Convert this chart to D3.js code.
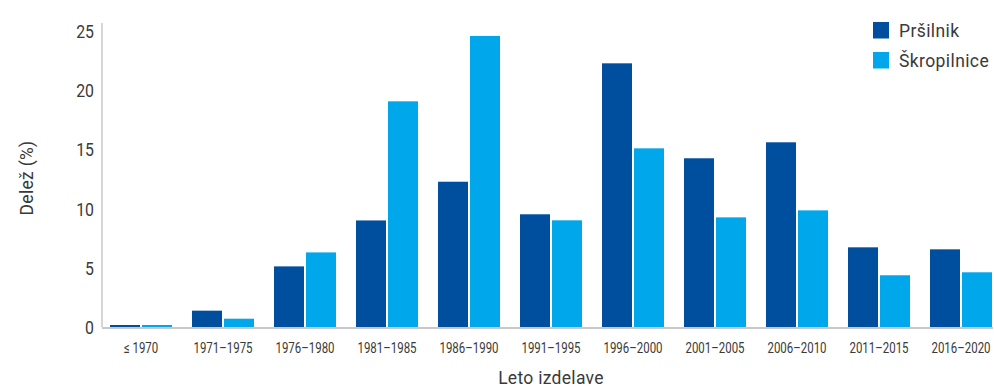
<!DOCTYPE html>
<html>
<head>
<meta charset="utf-8">
<script src="https://cdn.jsdelivr.net/npm/d3@7"></script>
<style>
  html, body { margin: 0; padding: 0; background: #fff; }
  svg { display: block; }
</style>
</head>
<body>
<svg id="chart" width="994" height="389"></svg>
<script>
// Production-year groups
const categories = ["≤ 1970", "1971–1975", "1976–1980", "1981–1985", "1986–1990",
  "1991–1995", "1996–2000", "2001–2005", "2006–2010", "2011–2015", "2016–2020"];
const seriesNames = ["Pršilnik", "Škropilnice"];
// Share (%) per group
const prsilnik    = [0.17, 1.38, 5.12, 9.0, 12.27, 9.52, 22.27, 14.25, 15.6, 6.73, 6.56];
const skropilnice = [0.17, 0.7, 6.3, 19.06, 24.58, 9.01, 15.09, 9.26, 9.85, 4.37, 4.62];
const yTicks = [0, 5, 10, 15, 20, 25];
const colors = ["#004f9f", "#00a7eb"];

const svg = d3.select("#chart");
const textColor = "#3a3a3a";
const font = "Roboto, sans-serif";

const x0 = d3.scaleBand().domain(categories).range([100, 1002])
  .paddingInner(20 / 82).paddingOuter(10 / 82);
const x1 = d3.scaleBand().domain(seriesNames).range([0, x0.bandwidth()]).paddingInner(2 / 32);
const y = d3.scaleLinear().domain([0, 25]).range([327, 31]);

const rows = categories.map((c, i) => ({ cat: c, vals: [prsilnik[i], skropilnice[i]] }));

// Bars
const groups = svg.append("g").selectAll("g").data(rows).join("g")
  .attr("transform", d => `translate(${x0(d.cat)},0)`);
groups.selectAll("rect")
  .data(d => d.vals.map((v, k) => ({ key: seriesNames[k], v, k })))
  .join("rect")
  .attr("x", d => x1(d.key))
  .attr("width", x1.bandwidth())
  .attr("y", d => y(d.v))
  .attr("height", d => y(0) - y(d.v))
  .attr("fill", d => colors[d.k]);

// Axis lines
svg.append("line").attr("x1", 102).attr("x2", 102).attr("y1", 23).attr("y2", y(0))
  .attr("stroke", "#c8c8c8").attr("stroke-width", 1.5);
svg.append("line").attr("x1", 102).attr("x2", 993).attr("y1", y(0) + 1).attr("y2", y(0) + 1)
  .attr("stroke", "#c8c8c8").attr("stroke-width", 2);

// Y axis labels (condensed)
const yAxis = d3.axisLeft(y).tickValues(yTicks).tickSize(0).tickPadding(0);
const gy = svg.append("g").attr("transform", "translate(94,0)").call(yAxis);
gy.select(".domain").remove();
gy.selectAll("text").attr("fill", textColor).attr("font-size", 18)
  .attr("font-family", font).attr("dy", "0.36em")
  .attr("transform", "scale(0.88,1)");

// X axis labels (condensed)
const xAxis = d3.axisBottom(x0).tickSize(0).tickPadding(0);
const gx = svg.append("g").attr("transform", "translate(0,342)").call(xAxis);
gx.select(".domain").remove();
gx.selectAll("text").attr("fill", textColor).attr("font-size", 15.5)
  .attr("font-family", font).attr("dy", "0.72em")
  .attr("transform", "scale(0.74,1)");

// Axis titles
svg.append("text").attr("x", 551).attr("y", 384).attr("text-anchor", "middle")
  .attr("font-family", font).attr("font-size", 17.5).attr("fill", textColor)
  .attr("letter-spacing", 0.3)
  .text("Leto izdelave");
svg.append("text").attr("transform", "translate(33,178) rotate(-90)").attr("text-anchor", "middle")
  .attr("font-family", font).attr("font-size", 17.5).attr("fill", textColor)
  .attr("letter-spacing", 0.3)
  .text("Delež (%)");

// Legend
const legend = svg.append("g").selectAll("g").data(seriesNames).join("g")
  .attr("transform", (d, i) => `translate(873,${22 + i * 30})`);
legend.append("rect").attr("width", 16).attr("height", 16.5).attr("fill", (d, i) => colors[i]);
legend.append("text").attr("x", 26).attr("y", 15)
  .attr("font-family", font).attr("font-size", 17.5).attr("fill", textColor)
  .attr("letter-spacing", 0.4)
  .text(d => d);
</script>
</body>
</html>
